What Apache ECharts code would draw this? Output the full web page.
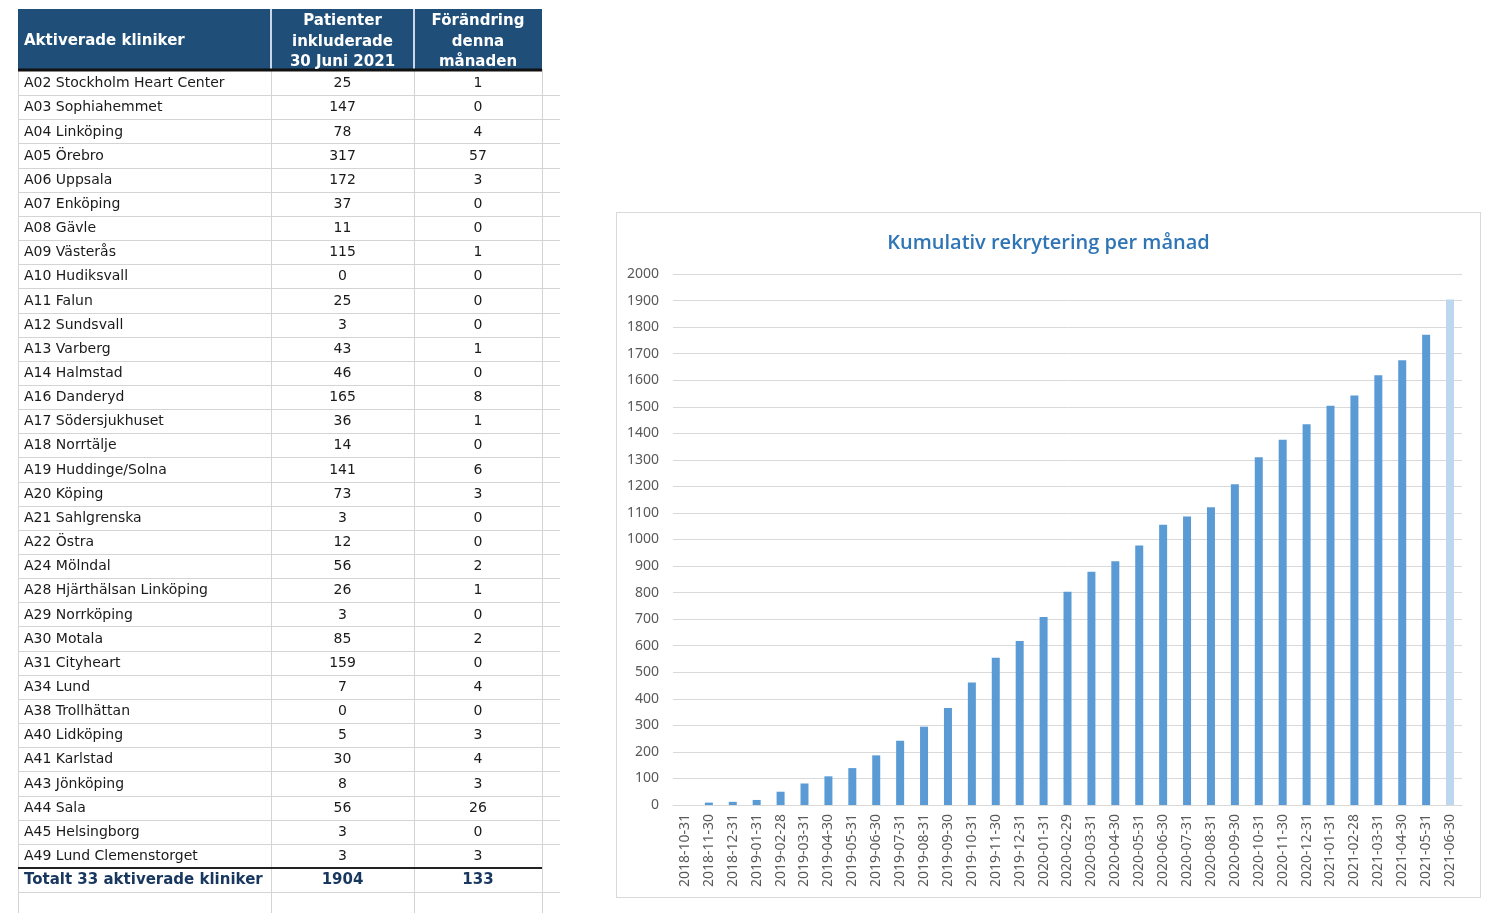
<!DOCTYPE html>
<html><head><meta charset="utf-8">
<script src="https://cdn.jsdelivr.net/npm/echarts@6/dist/echarts.min.js"></script>
<style>
html,body{margin:0;padding:0;background:#fff;width:1490px;height:913px;overflow:hidden}
#table{position:absolute;left:0;top:0;width:600px;height:913px}
#chart{position:absolute;left:616px;top:212px;width:865px;height:686px;box-sizing:border-box;border:1px solid #d9d9d9}
</style></head><body>
<div id="table"></div><div id="chart"></div>
<script>
// ---------- Table data ----------
const headers = ['Aktiverade kliniker', 'Patienter\ninkluderade\n30 Juni 2021', 'Förändring\ndenna\nmånaden'];
const clinics = ['A02 Stockholm Heart Center','A03 Sophiahemmet','A04 Linköping','A05 Örebro','A06 Uppsala','A07 Enköping','A08 Gävle','A09 Västerås','A10 Hudiksvall','A11 Falun','A12 Sundsvall','A13 Varberg','A14 Halmstad','A16 Danderyd','A17 Södersjukhuset','A18 Norrtälje','A19 Huddinge/Solna','A20 Köping','A21 Sahlgrenska','A22 Östra','A24 Mölndal','A28 Hjärthälsan Linköping','A29 Norrköping','A30 Motala','A31 Cityheart','A34 Lund','A38 Trollhättan','A40 Lidköping','A41 Karlstad','A43 Jönköping','A44 Sala','A45 Helsingborg','A49 Lund Clemenstorget'];
const patients = [25,147,78,317,172,37,11,115,0,25,3,43,46,165,36,14,141,73,3,12,56,26,3,85,159,7,0,5,30,8,56,3,3];
const changes = [1,0,4,57,3,0,0,1,0,0,0,1,0,8,1,0,6,3,0,0,2,1,0,2,0,4,0,3,4,3,26,0,3];
const totalRow = ['Totalt 33 aktiverade kliniker', '1904', '133'];

// ---------- Chart data ----------
const chartTitle = 'Kumulativ rekrytering per månad';
const months = ['2018-10-31','2018-11-30','2018-12-31','2019-01-31','2019-02-28','2019-03-31','2019-04-30','2019-05-31','2019-06-30','2019-07-31','2019-08-31','2019-09-30','2019-10-31','2019-11-30','2019-12-31','2020-01-31','2020-02-29','2020-03-31','2020-04-30','2020-05-31','2020-06-30','2020-07-31','2020-08-31','2020-09-30','2020-10-31','2020-11-30','2020-12-31','2021-01-31','2021-02-28','2021-03-31','2021-04-30','2021-05-31','2021-06-30'];
const cumulative = [0,9,12,19,50,81,108,139,187,242,295,365,461,555,618,708,803,879,918,977,1056,1087,1121,1208,1310,1376,1434,1504,1542,1619,1675,1771,1904];

// ---------- Table drawing ----------
const colEdges = [18, 271, 414, 542];
const gridRight = 560;
const headerTop = 9, headerBottom = 69;
const rowTop = 71, rowH = 24.15;
const textFont = '14px "DejaVu Sans"';
const boldFont = 'bold 15px "DejaVu Sans"';
const els = [];
els.push({type:'rect', shape:{x:colEdges[0], y:headerTop, width:colEdges[3]-colEdges[0], height:headerBottom-headerTop}, style:{fill:'#1f4e79'}});
[colEdges[1], colEdges[2]].forEach(x => els.push({type:'line', shape:{x1:x, y1:headerTop, x2:x, y2:headerBottom}, style:{stroke:'#c9d7e8', lineWidth:2}}));
const allRows = clinics.length + 1;
for (let i = 1; i <= allRows + 1; i++) {
  const y = Math.round(rowTop + i*rowH) + 0.5;
  if (i === clinics.length) continue;
  els.push({type:'line', shape:{x1:colEdges[0], y1:y, x2:gridRight, y2:y}, style:{stroke:'#d4d4d4', lineWidth:1}});
}
colEdges.forEach(x => els.push({type:'line', shape:{x1:x+0.5, y1:headerBottom, x2:x+0.5, y2:913}, style:{stroke:'#d4d4d4', lineWidth:1}}));
els.push({type:'line', shape:{x1:colEdges[0], y1:70, x2:colEdges[3], y2:70}, style:{stroke:'#111', lineWidth:3}});
const ty = Math.round(rowTop + clinics.length*rowH);
els.push({type:'line', shape:{x1:colEdges[0], y1:ty, x2:colEdges[3], y2:ty}, style:{stroke:'#222', lineWidth:2}});
const cx2 = (colEdges[1]+colEdges[2])/2, cx3 = (colEdges[2]+colEdges[3])/2;
const hy = (headerTop+headerBottom)/2 + 2;
els.push({type:'text', x:24, y:hy, style:{text:headers[0], font:boldFont, fill:'#fff', verticalAlign:'middle', textAlign:'left'}});
els.push({type:'text', x:cx2, y:hy+1, style:{text:headers[1], font:boldFont, fill:'#fff', verticalAlign:'middle', textAlign:'center', lineHeight:20.5}});
els.push({type:'text', x:cx3, y:hy+1, style:{text:headers[2], font:boldFont, fill:'#fff', verticalAlign:'middle', textAlign:'center', lineHeight:20.5}});
clinics.forEach((name, i) => {
  const y = rowTop + i*rowH + rowH/2 + 0.5;
  els.push({type:'text', x:24, y, style:{text:name, font:textFont, fill:'#1a1a1a', verticalAlign:'middle', textAlign:'left'}});
  els.push({type:'text', x:cx2, y, style:{text:String(patients[i]), font:textFont, fill:'#1a1a1a', verticalAlign:'middle', textAlign:'center'}});
  els.push({type:'text', x:cx3, y, style:{text:String(changes[i]), font:textFont, fill:'#1a1a1a', verticalAlign:'middle', textAlign:'center'}});
});
{
  const y = rowTop + clinics.length*rowH + rowH/2 + 0.5;
  els.push({type:'text', x:24, y, style:{text:totalRow[0], font:boldFont, fill:'#17375e', verticalAlign:'middle', textAlign:'left'}});
  els.push({type:'text', x:cx2, y, style:{text:totalRow[1], font:boldFont, fill:'#17375e', verticalAlign:'middle', textAlign:'center'}});
  els.push({type:'text', x:cx3, y, style:{text:totalRow[2], font:boldFont, fill:'#17375e', verticalAlign:'middle', textAlign:'center'}});
}
const tableChart = echarts.init(document.getElementById('table'));
tableChart.setOption({animation:false, graphic:{elements:els}});

// ---------- Bar chart ----------
const chart = echarts.init(document.getElementById('chart'));
chart.setOption({
  animation:false,
  title:{text:chartTitle, left:'center', top:20, padding:0, textStyle:{fontFamily:'Open Sans', fontWeight:600, fontSize:20, color:'#2e75b6'}},
  grid:{left:56, top:61, width:789, height:531},
  xAxis:{type:'category', data:months, axisLine:{lineStyle:{color:'#d9d9d9'}}, axisTick:{show:false},
    axisLabel:{rotate:90, interval:0, margin:9, fontFamily:'Noto Sans', fontSize:14, color:'#595959'}},
  yAxis:{type:'value', min:0, max:2000, interval:100, axisLine:{show:false}, axisTick:{show:false},
    splitLine:{lineStyle:{color:'#d9d9d9'}},
    axisLabel:{margin:14, fontFamily:'Noto Sans', fontSize:14, color:'#595959', formatter:v => String(v)}},
  series:[{type:'bar', barWidth:8,
    data:cumulative.map((v,i)=> i===cumulative.length-1 ? {value:v, itemStyle:{color:'#bdd7ee'}} : v),
    itemStyle:{color:'#5b9bd5'}}]
});
</script>
</body></html>
